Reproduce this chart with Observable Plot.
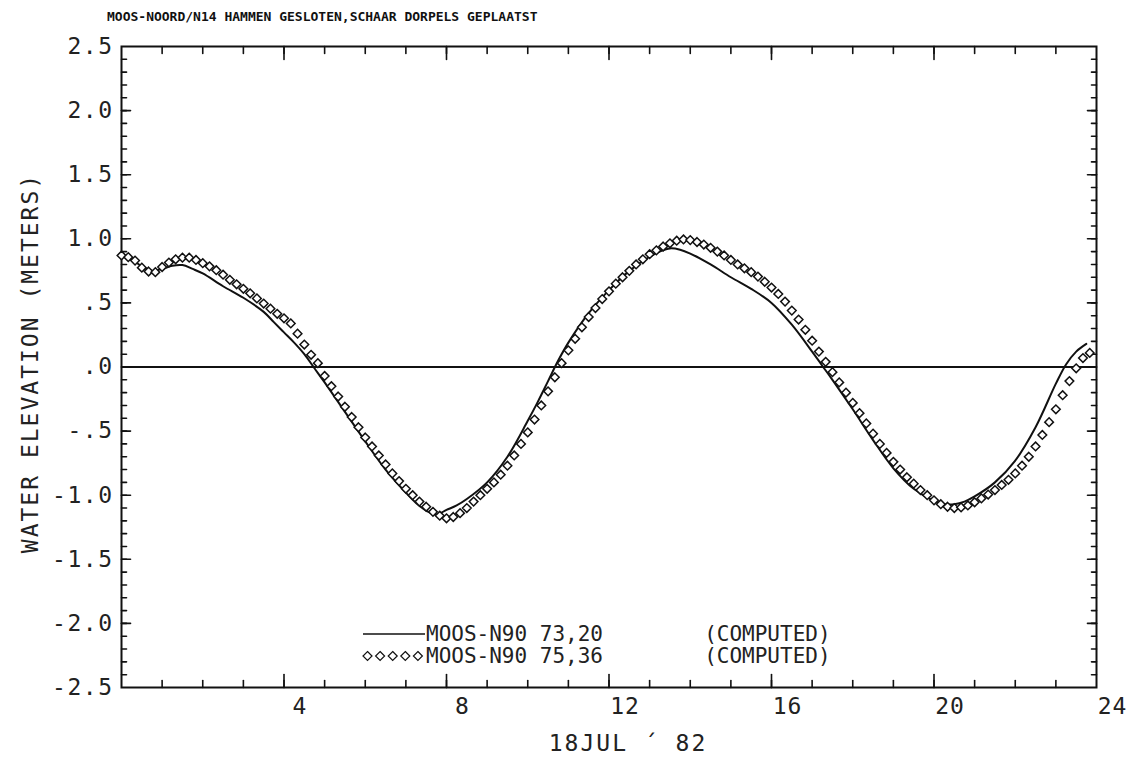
<!DOCTYPE html>
<html><head><meta charset="utf-8">
<script src="https://cdn.jsdelivr.net/npm/d3@7"></script>
<script src="https://cdn.jsdelivr.net/npm/@observablehq/plot@0.6"></script>
<style>
body{margin:0;background:#fff;}
#wrap{position:relative;width:1133px;height:758px;overflow:hidden;background:#fff;}
#title{position:absolute;left:107px;top:9px;font:bold 13px "DejaVu Sans Mono",monospace;white-space:pre;color:#111;}
#legend{position:absolute;left:362px;top:623px;font:21px "DejaVu Sans Mono",monospace;white-space:pre;line-height:22px;color:#222;}
#legend .row{display:flex;align-items:center;height:22px;}
#legend svg{display:block;}
</style></head><body>
<div id="wrap"><div id="chart"></div><div id="title"></div><div id="legend"></div></div>
<script>
// ---- texts ----
const titleText = "MOOS-NOORD/N14 HAMMEN GESLOTEN,SCHAAR DORPELS GEPLAATST";
const xAxisTitle = "18JUL \u00B4 82";
const yAxisTitle = "WATER ELEVATION (METERS)";
const seriesNames = ["MOOS-N90 73,20", "MOOS-N90 75,36"];
const seriesNotes = ["(COMPUTED)", "(COMPUTED)"];

// ---- ticks ----
const xTicks = [4, 8, 12, 16, 20, 24];
const xTickLabels = ["4", "8", "12", "16", "20", "24"];
const xMinorTicks = [1,2,3,4,5,6,7,8,9,10,11,12,13,14,15,16,17,18,19,20,21,22,23];
const xMajorTicks = [4, 8, 12, 16, 20];
const yTicks = [2.5, 2, 1.5, 1, 0.5, 0, -0.5, -1, -1.5, -2, -2.5];
const yTickLabels = ["2.5", "2.0", "1.5", "1.0", ".5", ".0", "-.5", "-1.0", "-1.5", "-2.0", "-2.5"];
const yMajorTicks = [2, 1.5, 1, 0.5, 0, -0.5, -1, -1.5, -2];
const yMinorTicks = d3.range(-24, 25).map(k => k / 10);

// ---- series 1: solid line (hours, meters) ----
const solidTimes = [0,0.25,0.5,0.75,1,1.25,1.5,1.75,2,2.5,3,3.5,3.75,4,4.25,4.5,4.75,5,5.5,6,6.5,7,7.25,7.5,7.75,8,8.25,8.5,9,9.5,10,10.25,10.5,10.75,11,11.5,12,12.5,13,13.25,13.5,13.75,14,14.5,15,15.5,16,16.5,17,17.25,17.5,18,18.5,19,19.5,20,20.25,20.5,20.75,21,21.5,22,22.5,23,23.25,23.5,23.75];
const solidValues = [0.87,0.84,0.785,0.75,0.765,0.79,0.795,0.765,0.73,0.63,0.54,0.43,0.35,0.27,0.19,0.10,-0.01,-0.12,-0.35,-0.58,-0.80,-0.98,-1.06,-1.12,-1.15,-1.115,-1.08,-1.03,-0.90,-0.70,-0.42,-0.27,-0.11,0.05,0.19,0.42,0.60,0.75,0.86,0.90,0.925,0.915,0.885,0.80,0.70,0.61,0.50,0.33,0.12,0.01,-0.10,-0.33,-0.57,-0.79,-0.95,-1.045,-1.07,-1.07,-1.05,-1.01,-0.90,-0.73,-0.47,-0.13,0.02,0.12,0.18];

// ---- series 2: diamonds, one value every 10 minutes from 0:00 ----
const diamondStepMinutes = 10;
const diamondValues = [
 0.87,0.857,0.83,0.775,0.745,0.74,0.78,0.815,0.84,0.853,0.853,0.835,
 0.81,0.785,0.755,0.72,0.68,0.645,0.61,0.575,0.535,0.495,0.455,0.415,
 0.38,0.34,0.26,0.175,0.095,0.03,-0.07,-0.15,-0.23,-0.31,-0.39,-0.47,
 -0.55,-0.62,-0.69,-0.76,-0.83,-0.89,-0.95,-1.0,-1.05,-1.09,-1.13,-1.16,
 -1.18,-1.17,-1.14,-1.10,-1.05,-1.00,-0.95,-0.90,-0.84,-0.77,-0.69,-0.60,
 -0.51,-0.41,-0.30,-0.19,-0.08,0.03,0.13,0.22,0.31,0.39,0.46,0.53,
 0.59,0.65,0.70,0.75,0.80,0.84,0.88,0.91,0.94,0.965,0.985,0.995,
 0.99,0.975,0.955,0.93,0.9,0.87,0.835,0.8,0.77,0.74,0.705,0.665,
 0.62,0.57,0.51,0.44,0.37,0.29,0.205,0.12,0.04,-0.04,-0.12,-0.20,
 -0.28,-0.36,-0.44,-0.52,-0.60,-0.67,-0.74,-0.80,-0.86,-0.91,-0.96,-1.0,
 -1.04,-1.07,-1.09,-1.10,-1.095,-1.08,-1.055,-1.025,-0.995,-0.96,-0.92,-0.88,
 -0.83,-0.77,-0.70,-0.62,-0.53,-0.43,-0.33,-0.22,-0.11,-0.01,0.07,0.11
];

const solid = solidTimes.map((t, i) => ({t, v: solidValues[i]}));
const diamonds = diamondValues.map((v, i) => ({t: i * diamondStepMinutes / 60, v}));
const xLabelOf = new Map(xTicks.map((v, i) => [v, xTickLabels[i]]));
const yLabelOf = new Map(yTicks.map((v, i) => [v, yTickLabels[i]]));

const ink = "#111";
const textInk = "#222";
const tickShape = {draw(ctx, l) { ctx.moveTo(0, 0); ctx.lineTo(0, -l); }};
function edgeTicks(values, dim, anchor, rotate, length) {
  const o = {frameAnchor: anchor, rotate, length, shape: tickShape, anchor: "start", stroke: ink, strokeWidth: 1.6};
  return dim === "x" ? Plot.vectorX(values, {x: d => d, ...o}) : Plot.vectorY(values, {y: d => d, ...o});
}

const svg = Plot.plot({
  width: 1133, height: 758,
  marginLeft: 121, marginRight: 37, marginTop: 46, marginBottom: 71,
  x: {domain: [0, 24]},
  y: {domain: [-2.5, 2.5]},
  style: {fontFamily: "'DejaVu Sans Mono', monospace", background: "white", color: textInk},
  marks: [
    Plot.ruleY([0], {stroke: ink, strokeWidth: 2}),
    edgeTicks(xMinorTicks, "x", "bottom", 0, 7),
    edgeTicks(xMajorTicks, "x", "bottom", 0, 13),
    edgeTicks(xMinorTicks, "x", "top", 180, 7),
    edgeTicks(xMajorTicks, "x", "top", 180, 13),
    edgeTicks(yMinorTicks, "y", "left", 90, 5),
    edgeTicks(yMajorTicks, "y", "left", 90, 9),
    edgeTicks(yMinorTicks, "y", "right", -90, 5),
    edgeTicks(yMajorTicks, "y", "right", -90, 9),
    Plot.frame({stroke: ink, strokeWidth: 2}),
    Plot.axisX({ticks: xTicks, tickFormat: d => xLabelOf.get(d), tickSize: 0, tickPadding: 10, dx: 16, fontSize: 23, label: null, fill: textInk}),
    Plot.axisY({ticks: yTicks, tickFormat: d => yLabelOf.get(d), tickSize: 0, tickPadding: 8, fontSize: 23, label: null, fill: textInk}),
    Plot.line(solid, {x: "t", y: "v", curve: "catmull-rom", stroke: ink, strokeWidth: 2}),
    Plot.dot(diamonds, {x: "t", y: "v", symbol: "diamond2", r: 3.9, stroke: ink, fill: "white", strokeWidth: 1.5}),
    Plot.text([xAxisTitle], {frameAnchor: "bottom", lineAnchor: "middle", textAnchor: "middle", dx: 19, dy: 56, fontSize: 23, fill: textInk}),
    Plot.text([yAxisTitle], {frameAnchor: "left", lineAnchor: "middle", textAnchor: "middle", rotate: -90, dx: -91, dy: -4, fontSize: 23, fill: textInk})
  ]
});
document.getElementById("chart").appendChild(svg);
d3.select(svg).selectAll('[aria-label="y-axis tick label"] text').style("letter-spacing", "1.5px");
d3.select(svg).selectAll('[aria-label="x-axis tick label"] text').style("letter-spacing", "1px");
d3.select(svg).selectAll('[aria-label="text"] text').style("letter-spacing", "2px");

document.getElementById("title").textContent = titleText;

// legend
const legend = document.getElementById("legend");
seriesNames.forEach((name, i) => {
  const row = document.createElement("div");
  row.className = "row";
  const s = d3.create("svg").attr("width", 64).attr("height", 22);
  if (i === 0) {
    s.append("line").attr("x1", 1).attr("x2", 63).attr("y1", 11).attr("y2", 11).attr("stroke", ink).attr("stroke-width", 1.5);
  } else {
    for (let k = 0; k < 5; k++) {
      const cx = 5.5 + k * 12.6;
      s.append("path").attr("d", `M${cx},${6.5}L${cx + 4.5},${11}L${cx},${15.5}L${cx - 4.5},${11}Z`).attr("fill", "none").attr("stroke", ink).attr("stroke-width", 1.2);
    }
  }
  row.appendChild(s.node());
  const span = document.createElement("span");
  span.textContent = name + "        " + seriesNotes[i];
  row.appendChild(span);
  legend.appendChild(row);
});
</script>
</body></html>
